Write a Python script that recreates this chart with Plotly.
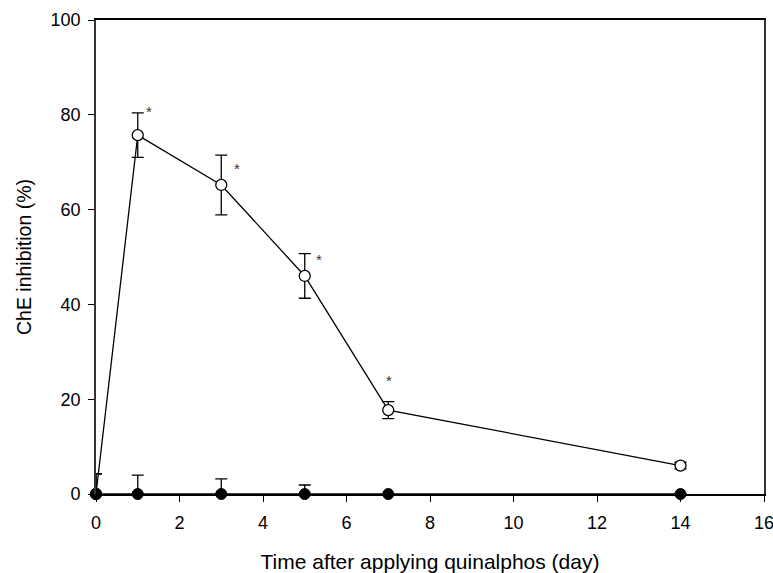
import plotly.graph_objects as go

days = [0, 1, 3, 5, 7, 14]
treated = [0, 75.7, 65.2, 46.0, 17.7, 6.0]
treated_err = [4.3, 4.7, 6.3, 4.7, 1.8, 0.7]
control = [0, 0, 0, 0, 0, 0]
control_err = [4.2, 4.0, 3.2, 1.9, 0, 0]
sig_x = [1.27, 3.38, 5.34, 7.02]
sig_y = [80.8, 68.6, 49.4, 24.0]

x_ticks = [0, 2, 4, 6, 8, 10, 12, 14, 16]
y_ticks = [0, 20, 40, 60, 80, 100]

font = "Liberation Sans, Arial, sans-serif"

fig = go.Figure()
fig.add_trace(go.Scatter(
    x=days, y=treated, mode="lines+markers",
    line=dict(color="black", width=1.3),
    marker=dict(symbol="circle", size=11, color="white", line=dict(color="black", width=1.3)),
    error_y=dict(type="data", array=treated_err, visible=True, color="black", thickness=1.3, width=6),
    cliponaxis=False, showlegend=False))
fig.add_trace(go.Scatter(
    x=days, y=control, mode="lines+markers",
    line=dict(color="black", width=1.3),
    marker=dict(symbol="circle", size=11, color="black", line=dict(color="black", width=1)),
    error_y=dict(type="data", array=control_err, arrayminus=[0]*len(days), symmetric=False,
                 visible=True, color="black", thickness=1.3, width=6),
    cliponaxis=False, showlegend=False))

for sx, sy in zip(sig_x, sig_y):
    fig.add_annotation(x=sx, y=sy, text="*", showarrow=False,
                       font=dict(family=font, size=15, color="#333"))

fig.update_layout(
    width=773, height=573,
    margin=dict(l=96, r=9, t=20, b=79),
    plot_bgcolor="white", paper_bgcolor="white",
    font=dict(family=font, size=18, color="black"),
    xaxis=dict(range=[0, 16], tickvals=x_ticks, ticks="outside", ticklen=6, tickwidth=1.3,
               tickcolor="black", showline=True, linecolor="black", linewidth=1.5, mirror=True,
               showgrid=False, zeroline=False, automargin=False,
               ticklabeloverflow="allow", ticklabelstandoff=6,
               title=dict(text="Time after applying quinalphos (day)", font=dict(size=21), standoff=22)),
    yaxis=dict(range=[0, 100], tickvals=y_ticks, ticks="outside", ticklen=6, tickwidth=1.3,
               tickcolor="black", showline=True, linecolor="#333", linewidth=1.8, mirror=True,
               showgrid=False, zeroline=False, automargin=False,
               ticklabeloverflow="allow", ticklabelstandoff=4,
               title=dict(text="ChE inhibition (%)", font=dict(size=19.5), standoff=14)),
)

fig.write_html("out.html")
